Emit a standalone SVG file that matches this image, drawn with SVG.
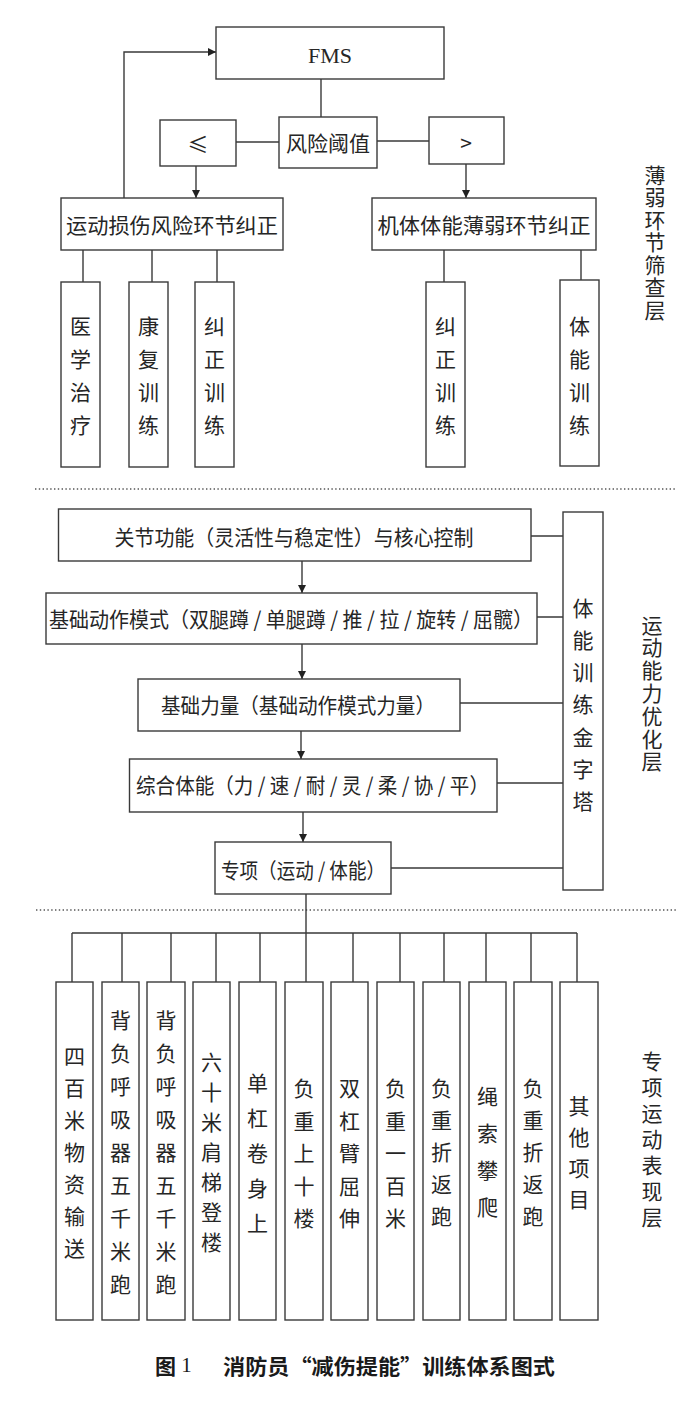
<svg xmlns="http://www.w3.org/2000/svg" width="700" height="1412" viewBox="0 0 700 1412">
<style>
.b{fill:#fff;stroke:#3a3a3a;stroke-width:1.4}
.t{font-family:"Noto Sans CJK SC",sans-serif;font-size:21px;fill:#262626;text-anchor:middle;dominant-baseline:central}
.v{font-family:"Noto Sans CJK SC",sans-serif;font-size:21px;fill:#262626;text-anchor:middle;writing-mode:vertical-rl}
.s{font-family:"Liberation Serif",serif;font-size:22px;fill:#262626;text-anchor:middle;dominant-baseline:central}
.c path{fill:none;stroke:#3a3a3a;stroke-width:1.4}
.c path.a{marker-end:url(#ah)}
.d{stroke:#555;stroke-width:1.4;stroke-dasharray:1.4 2.4}
.cap{font-family:"Noto Sans CJK SC",sans-serif;font-size:21px;font-weight:bold;fill:#1a1a1a;dominant-baseline:central}
</style>
<defs>
<marker id="ah" viewBox="0 0 10 10" refX="10" refY="5" markerWidth="8" markerHeight="8" markerUnits="userSpaceOnUse" orient="auto">
<path d="M0,0 L10,5 L0,10 z" fill="#222"/>
</marker>
</defs>
<rect width="700" height="1412" fill="#fff"/>

<g id="dividers">
<line class="d" x1="35" y1="489" x2="677" y2="489"/>
<line class="d" x1="36" y1="910" x2="676" y2="910"/>
</g>

<g class="c" id="connectors">
<path class="a" d="M124,198 V52 H216"/>
<path d="M321,79 V117"/>
<path d="M236,142 H279"/>
<path d="M377,141 H429"/>
<path class="a" d="M196,166 V198"/>
<path class="a" d="M466,164 V198"/>
<path d="M83,250 V282 M152,250 V282 M217,250 V282"/>
<path d="M444,250 V282 M581,250 V280"/>
<path class="a" d="M302,561 V593"/>
<path class="a" d="M302,644 V679"/>
<path class="a" d="M301,731 V759"/>
<path class="a" d="M303,812 V842"/>
<path d="M531,536 H563 M537,617 H563 M460,703 H563 M497,783 H563 M391,868 H563"/>
<path d="M306,894 V933 M72,933 H577"/>
<path d="M72,933 V982 M122,933 V982 M171,933 V982 M216,933 V982 M260,933 V982 M306,933 V982 M353,933 V982 M400,933 V982 M444,933 V982 M486,933 V982 M531,933 V982 M577,933 V982"/>
</g>

<g id="fms"><rect class="b" x="216" y="27" width="228" height="52"/><text class="s" x="330" y="55">FMS</text></g>
<g id="threshold"><rect class="b" x="279" y="117" width="98" height="51"/><text class="t" x="328" y="142">风险阈值</text></g>
<g id="le"><rect class="b" x="160" y="120" width="76" height="46"/><text class="t" x="198" y="143">≤</text></g>
<g id="gt"><rect class="b" x="429" y="117" width="75" height="47"/><text class="t" x="466" y="142">&gt;</text></g>
<g id="injury"><rect class="b" x="61" y="198" width="222" height="52"/><text class="t" x="172" y="224" textLength="212" lengthAdjust="spacingAndGlyphs">运动损伤风险环节纠正</text></g>
<g id="weak"><rect class="b" x="372" y="198" width="224" height="52"/><text class="t" x="484" y="224" textLength="213" lengthAdjust="spacingAndGlyphs">机体体能薄弱环节纠正</text></g>

<g id="medical"><rect class="b" x="61" y="282" width="39" height="185"/>
<text class="t"><tspan x="80.5" y="325">医</tspan><tspan x="80.5" y="358">学</tspan><tspan x="80.5" y="391">治</tspan><tspan x="80.5" y="424">疗</tspan></text></g>
<g id="rehab"><rect class="b" x="129" y="282" width="39" height="185"/>
<text class="t"><tspan x="148.5" y="325">康</tspan><tspan x="148.5" y="358">复</tspan><tspan x="148.5" y="391">训</tspan><tspan x="148.5" y="424">练</tspan></text></g>
<g id="correct1"><rect class="b" x="195" y="282" width="39" height="185"/>
<text class="t"><tspan x="214.5" y="325">纠</tspan><tspan x="214.5" y="358">正</tspan><tspan x="214.5" y="391">训</tspan><tspan x="214.5" y="424">练</tspan></text></g>
<g id="correct2"><rect class="b" x="426" y="282" width="39" height="185"/>
<text class="t"><tspan x="445.5" y="325">纠</tspan><tspan x="445.5" y="358">正</tspan><tspan x="445.5" y="391">训</tspan><tspan x="445.5" y="424">练</tspan></text></g>
<g id="fitness"><rect class="b" x="560" y="280" width="39" height="186"/>
<text class="t"><tspan x="579.5" y="325">体</tspan><tspan x="579.5" y="358">能</tspan><tspan x="579.5" y="391">训</tspan><tspan x="579.5" y="424">练</tspan></text></g>

<g id="layer1"><text class="v" x="655" y="243" letter-spacing="1.5">薄弱环节筛查层</text></g>

<g id="joint"><rect class="b" x="58.5" y="509" width="472.5" height="52"/><text class="t" x="294" y="536" textLength="359" lengthAdjust="spacingAndGlyphs">关节功能（灵活性与稳定性）与核心控制</text></g>
<g id="pattern"><rect class="b" x="46" y="593" width="491" height="51"/><text class="t" x="291" y="618" textLength="484" lengthAdjust="spacingAndGlyphs">基础动作模式（双腿蹲 / 单腿蹲 / 推 / 拉 / 旋转 / 屈髋）</text></g>
<g id="strength"><rect class="b" x="138" y="679" width="322" height="52"/><text class="t" x="298" y="704" textLength="274" lengthAdjust="spacingAndGlyphs">基础力量（基础动作模式力量）</text></g>
<g id="general"><rect class="b" x="129.5" y="759" width="367.5" height="53"/><text class="t" x="312.5" y="784" textLength="353" lengthAdjust="spacingAndGlyphs">综合体能（力 / 速 / 耐 / 灵 / 柔 / 协 / 平）</text></g>
<g id="special"><rect class="b" x="215" y="842" width="176" height="52"/><text class="t" x="303" y="869" textLength="164" lengthAdjust="spacingAndGlyphs">专项（运动 / 体能）</text></g>
<g id="pyramid"><rect class="b" x="563" y="512" width="40" height="378"/>
<text class="t"><tspan x="583" y="607">体</tspan><tspan x="583" y="639">能</tspan><tspan x="583" y="671">训</tspan><tspan x="583" y="703">练</tspan><tspan x="583" y="736">金</tspan><tspan x="583" y="768">字</tspan><tspan x="583" y="800">塔</tspan></text></g>

<g id="layer2"><text class="v" x="652" y="694" letter-spacing="1.8">运动能力优化层</text></g>

<g id="e1"><rect class="b" x="56" y="982" width="37" height="338"/>
<text class="t"><tspan x="74.5" y="1055">四</tspan><tspan x="74.5" y="1087">百</tspan><tspan x="74.5" y="1119">米</tspan><tspan x="74.5" y="1151">物</tspan><tspan x="74.5" y="1183">资</tspan><tspan x="74.5" y="1215">输</tspan><tspan x="74.5" y="1247">送</tspan></text></g>
<g id="e2"><rect class="b" x="102" y="982" width="37" height="338"/>
<text class="t"><tspan x="120.5" y="1019">背</tspan><tspan x="120.5" y="1052">负</tspan><tspan x="120.5" y="1085">呼</tspan><tspan x="120.5" y="1118">吸</tspan><tspan x="120.5" y="1151">器</tspan><tspan x="120.5" y="1184">五</tspan><tspan x="120.5" y="1217">千</tspan><tspan x="120.5" y="1250">米</tspan><tspan x="120.5" y="1283">跑</tspan></text></g>
<g id="e3"><rect class="b" x="147" y="982" width="38" height="338"/>
<text class="t"><tspan x="166" y="1019">背</tspan><tspan x="166" y="1052">负</tspan><tspan x="166" y="1085">呼</tspan><tspan x="166" y="1118">吸</tspan><tspan x="166" y="1151">器</tspan><tspan x="166" y="1184">五</tspan><tspan x="166" y="1217">千</tspan><tspan x="166" y="1250">米</tspan><tspan x="166" y="1283">跑</tspan></text></g>
<g id="e4"><rect class="b" x="193" y="982" width="37" height="338"/>
<text class="t"><tspan x="211.5" y="1061">六</tspan><tspan x="211.5" y="1091">十</tspan><tspan x="211.5" y="1121">米</tspan><tspan x="211.5" y="1151">肩</tspan><tspan x="211.5" y="1181">梯</tspan><tspan x="211.5" y="1211">登</tspan><tspan x="211.5" y="1241">楼</tspan></text></g>
<g id="e5"><rect class="b" x="239" y="982" width="37" height="338"/>
<text class="t"><tspan x="257.5" y="1082">单</tspan><tspan x="257.5" y="1117">杠</tspan><tspan x="257.5" y="1152">卷</tspan><tspan x="257.5" y="1187">身</tspan><tspan x="257.5" y="1222">上</tspan></text></g>
<g id="e6"><rect class="b" x="285" y="982" width="38" height="338"/>
<text class="t"><tspan x="304" y="1087">负</tspan><tspan x="304" y="1119.5">重</tspan><tspan x="304" y="1152">上</tspan><tspan x="304" y="1184.5">十</tspan><tspan x="304" y="1217">楼</tspan></text></g>
<g id="e7"><rect class="b" x="331" y="982" width="37" height="338"/>
<text class="t"><tspan x="349.5" y="1087">双</tspan><tspan x="349.5" y="1119.5">杠</tspan><tspan x="349.5" y="1152">臂</tspan><tspan x="349.5" y="1184.5">屈</tspan><tspan x="349.5" y="1217">伸</tspan></text></g>
<g id="e8"><rect class="b" x="377" y="982" width="37" height="338"/>
<text class="t"><tspan x="395.5" y="1087">负</tspan><tspan x="395.5" y="1119.5">重</tspan><tspan x="395.5" y="1152">一</tspan><tspan x="395.5" y="1184.5">百</tspan><tspan x="395.5" y="1217">米</tspan></text></g>
<g id="e9"><rect class="b" x="423" y="982" width="37" height="338"/>
<text class="t"><tspan x="441.5" y="1087">负</tspan><tspan x="441.5" y="1119">重</tspan><tspan x="441.5" y="1151">折</tspan><tspan x="441.5" y="1183">返</tspan><tspan x="441.5" y="1215">跑</tspan></text></g>
<g id="e10"><rect class="b" x="469" y="982" width="37" height="338"/>
<text class="t"><tspan x="487.5" y="1095">绳</tspan><tspan x="487.5" y="1132">索</tspan><tspan x="487.5" y="1169">攀</tspan><tspan x="487.5" y="1206">爬</tspan></text></g>
<g id="e11"><rect class="b" x="514" y="982" width="38" height="338"/>
<text class="t"><tspan x="533" y="1087">负</tspan><tspan x="533" y="1119">重</tspan><tspan x="533" y="1151">折</tspan><tspan x="533" y="1183">返</tspan><tspan x="533" y="1215">跑</tspan></text></g>
<g id="e12"><rect class="b" x="560" y="982" width="38" height="338"/>
<text class="t"><tspan x="579" y="1105">其</tspan><tspan x="579" y="1136">他</tspan><tspan x="579" y="1167">项</tspan><tspan x="579" y="1198">目</tspan></text></g>

<g id="layer3"><text class="v" x="652" y="1142" letter-spacing="5">专项运动表现层</text></g>

<g id="caption">
<text class="cap" x="155" y="1365">图<tspan font-family="Liberation Serif" font-weight="normal"> 1</tspan></text>
<text class="cap" x="223" y="1365" textLength="332" lengthAdjust="spacingAndGlyphs">消防员“减伤提能”训练体系图式</text>
</g>
</svg>
